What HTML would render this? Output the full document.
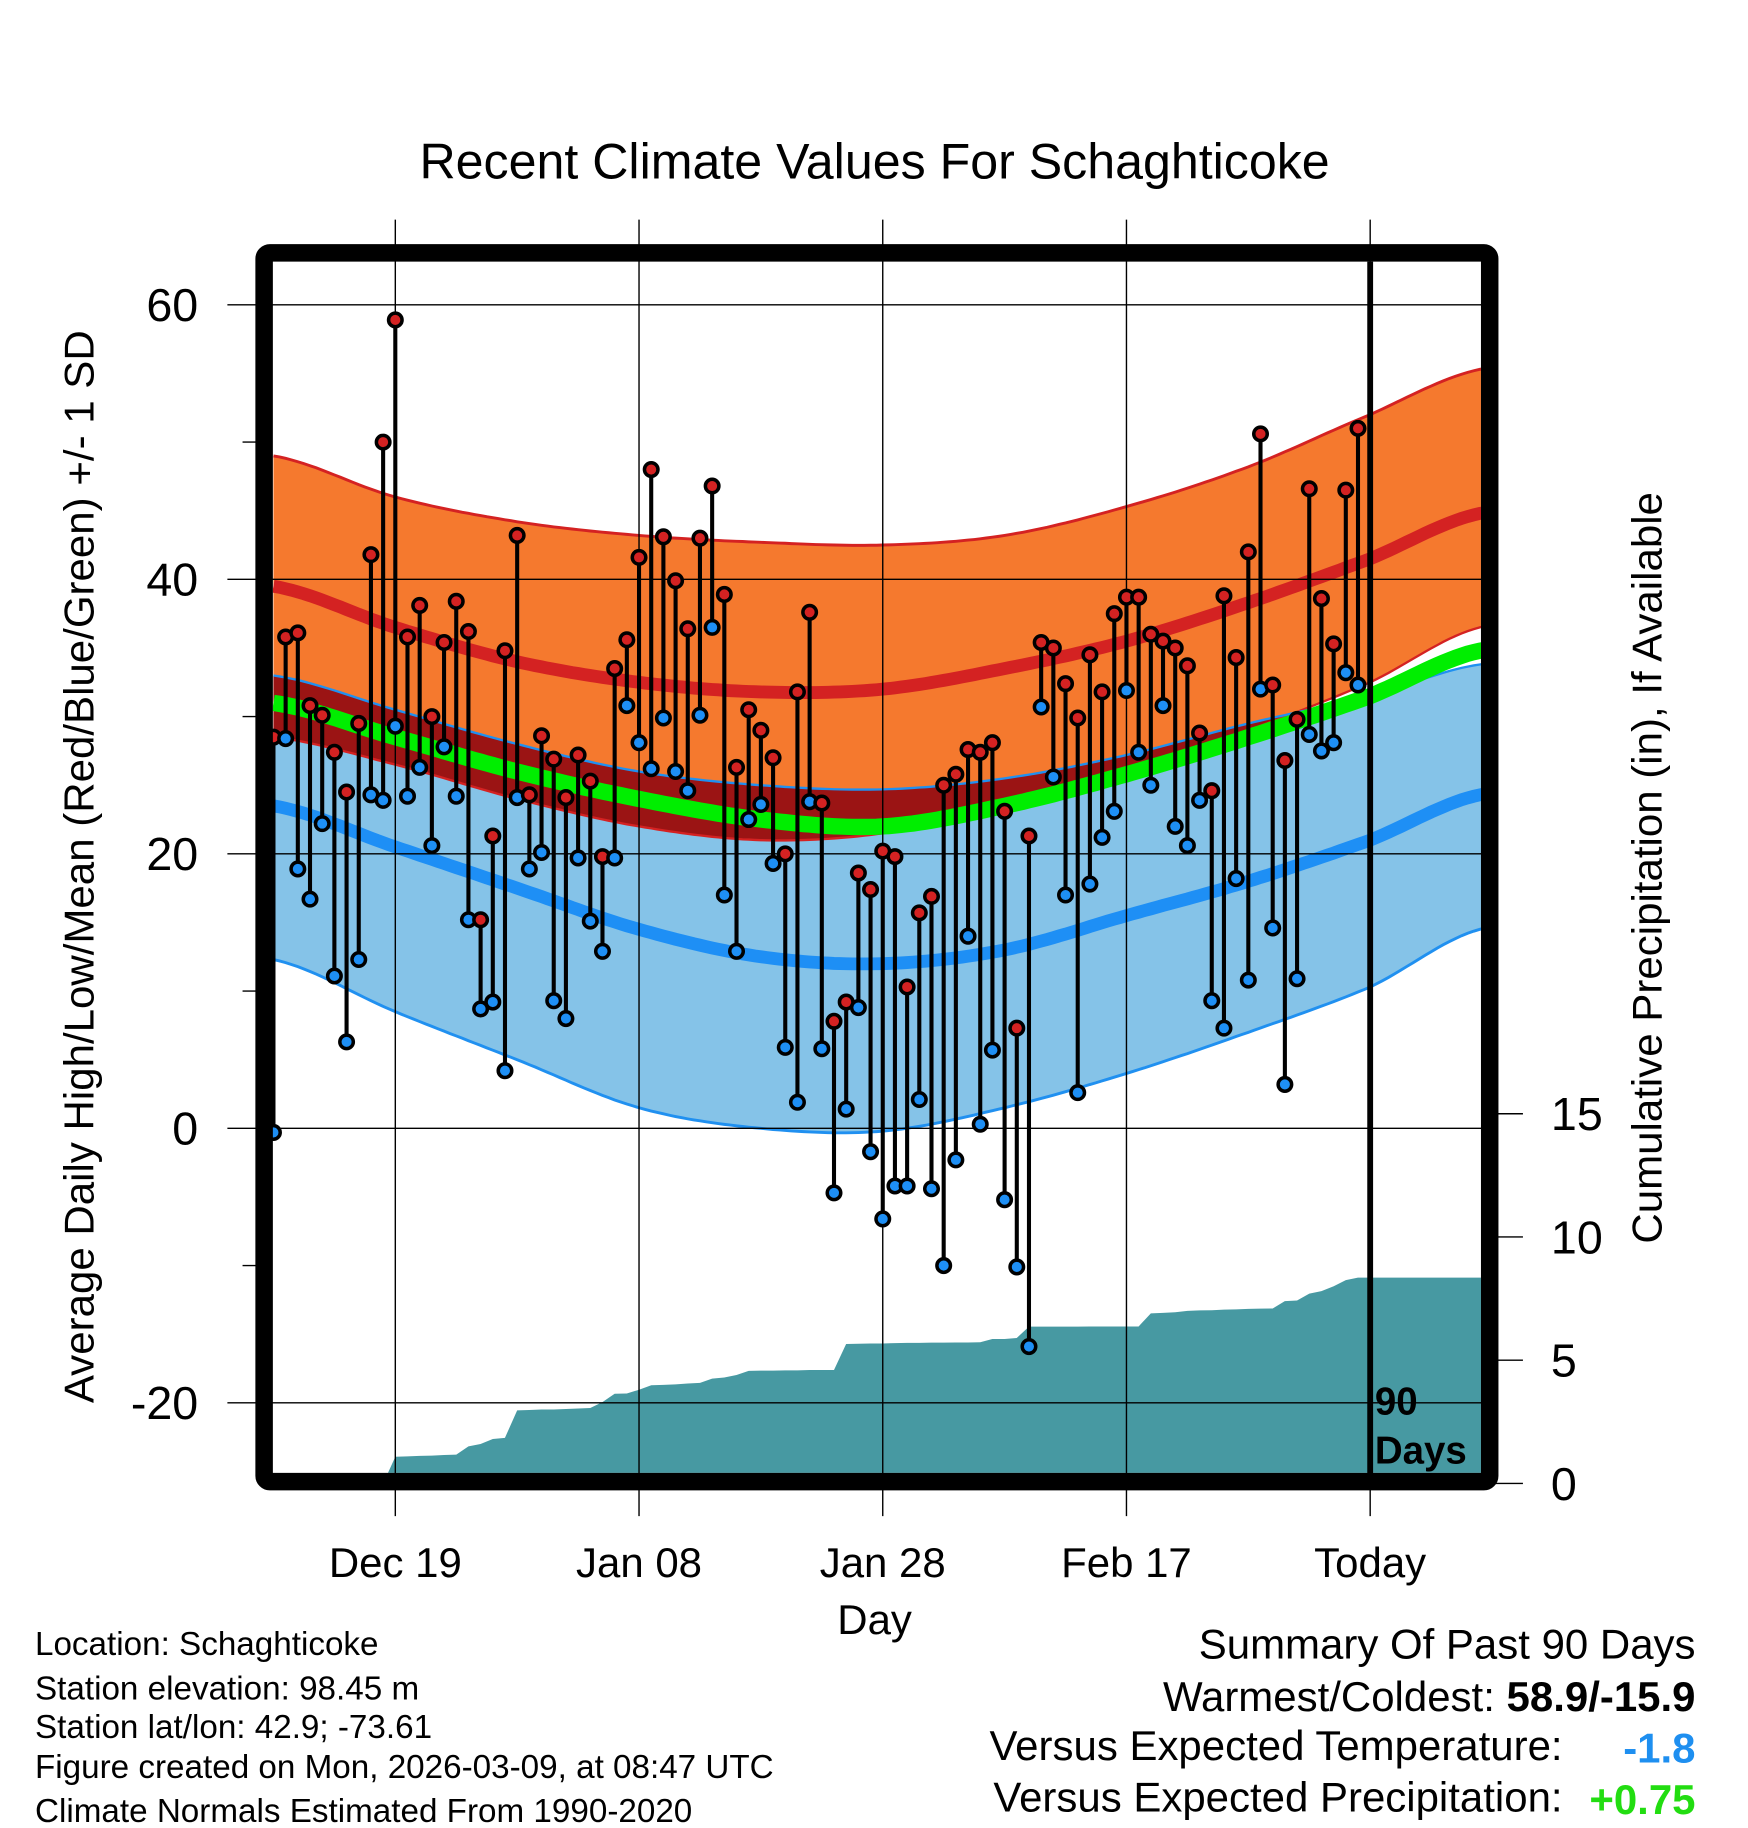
<!DOCTYPE html>
<html><head><meta charset="utf-8"><style>
html,body{margin:0;padding:0;background:#fff;}
svg{display:block;font-family:"Liberation Sans",Arial,sans-serif;}
</style></head><body>
<svg id="chart" width="1748" height="1828" viewBox="-2 -2 1499 1565" preserveAspectRatio="none" xmlns="http://www.w3.org/2000/svg">
<defs><clipPath id="plotclip"><rect x="232" y="222" width="1036" height="1037"/></clipPath></defs>
<text x="748" y="151" font-size="43" text-anchor="middle">Recent Climate Values For Schaghticoke</text>
<g id="plot" clip-path="url(#plotclip)"></g>
<g id="axes"></g>
<text transform="translate(78,740) rotate(-90)" font-size="36" text-anchor="middle">Average Daily High/Low/Mean (Red/Blue/Green) +/- 1 SD</text>
<text transform="translate(1423,741) rotate(-90)" font-size="36" text-anchor="middle">Cumulative Precipitation (in), If Available</text>
<text x="748" y="1397" font-size="36" text-anchor="middle">Day</text>
<g font-size="28.5">
<text x="28" y="1415">Location: Schaghticoke</text>
<text x="28" y="1453">Station elevation: 98.45 m</text>
<text x="28" y="1486">Station lat/lon: 42.9; -73.61</text>
<text x="28" y="1520">Figure created on Mon, 2026-03-09, at 08:47 UTC</text>
<text x="28" y="1558">Climate Normals Estimated From 1990-2020</text>
</g>
<g font-size="36">
<text x="1452" y="1418" text-anchor="end">Summary Of Past 90 Days</text>
<text x="1452" y="1463" text-anchor="end">Warmest/Coldest: <tspan font-weight="bold">58.9/-15.9</tspan></text>
<text x="1338" y="1505" text-anchor="end">Versus Expected Temperature:</text>
<text x="1452" y="1507" text-anchor="end" font-weight="bold" fill="#1e8ff0">-1.8</text>
<text x="1338" y="1549" text-anchor="end">Versus Expected Precipitation:</text>
<text x="1452" y="1551" text-anchor="end" font-weight="bold" fill="#22dd11">+0.75</text>
</g>
</svg>
<script>
// data
const highs=[28.5,35.8,36.1,30.8,30.1,27.4,24.5,29.5,41.8,50,58.9,35.8,38.1,30,35.4,38.4,36.2,15.2,21.3,34.8,43.2,24.3,28.6,26.9,24.1,27.2,25.3,19.8,33.5,35.6,41.6,48,43.1,39.9,36.4,43,46.8,38.9,26.3,30.5,29,27,20,31.8,37.6,23.7,7.8,9.2,18.6,17.4,20.2,19.8,10.3,15.7,16.9,25,25.8,27.6,27.4,28.1,23.1,7.3,21.3,35.4,35,32.4,29.9,34.5,31.8,37.5,38.7,38.7,36,35.5,35,33.7,28.8,24.6,38.8,34.3,42,50.6,32.3,26.8,29.8,46.6,38.6,35.3,46.5,51];
const lows=[-0.3,28.4,18.9,16.7,22.2,11.1,6.3,12.3,24.3,23.9,29.3,24.2,26.3,20.6,27.8,24.2,15.2,8.7,9.2,4.2,24.1,18.9,20.1,9.3,8,19.7,15.1,12.9,19.7,30.8,28.1,26.2,29.9,26,24.6,30.1,36.5,17,12.9,22.5,23.6,19.3,5.9,1.9,23.8,5.8,-4.7,1.4,8.8,-1.7,-6.6,-4.2,-4.2,2.1,-4.4,-10,-2.3,14,0.3,5.7,-5.2,-10.1,-15.9,30.7,25.6,17,2.6,17.8,21.2,23.1,31.9,27.4,25,30.8,22,20.6,23.9,9.3,7.3,18.2,10.8,32,14.6,3.2,10.9,28.7,27.5,28.1,33.2,32.3];
const precip=[0,0,0,0,0,0,0,0,0,0,1.08,1.1,1.12,1.13,1.15,1.17,1.5,1.6,1.8,1.85,2.96,2.98,3,3,3.02,3.04,3.06,3.3,3.64,3.65,3.8,3.98,4,4.02,4.05,4.08,4.25,4.3,4.4,4.57,4.58,4.58,4.59,4.59,4.6,4.6,4.6,5.66,5.67,5.68,5.68,5.69,5.7,5.7,5.71,5.71,5.72,5.72,5.73,5.86,5.86,5.9,6.36,6.36,6.36,6.36,6.36,6.37,6.37,6.37,6.37,6.37,6.9,6.92,6.95,7,7.02,7.03,7.05,7.06,7.08,7.09,7.1,7.4,7.42,7.7,7.8,8,8.25,8.35];
const knotDays=[0,10,20,30,40,50,60,70,80,90,99];
const normHighPlus=[49,46,44.2,43.2,42.7,42.5,43.2,45.3,48.2,52,55.3];
const normHigh=[39.5,36.5,34,32.5,31.8,32,33.5,35.5,38.3,41.5,44.8];
const normHighMinus=[28.5,26.5,24,22,21,21.5,23.5,26,29,32.5,36.5];
const normMean=[31,28.5,26,24,22.5,22,23.5,25.8,28.5,31.5,34.8];
const normLowPlus=[33,30.5,28,26,25,24.7,25.5,27.2,29.5,31.5,33.8];
const normLow=[23.5,20.5,17.5,14.5,12.5,12,13,15.5,18,21,24.3];
const normLowMinus=[12.3,8.5,5,1.5,0,-0.2,1.5,4,7,10.3,14.5];
const xTickLabels=["Dec 19","Jan 08","Jan 28","Feb 17","Today"];
const xTickDays=[10,30,50,70,90];
const yTicks=[60,40,20,0,-20];
const yMinor=[50,30,10,-10];
const pTicks=[0,5,10,15];

const NS="http://www.w3.org/2000/svg";
const X=d=>232.5+d*10.45;
const Y=t=>964-t*11.75;
const P=p=>1268-p*21.1;
function mk(tag,attrs,parent){const e=document.createElementNS(NS,tag);for(const k in attrs)e.setAttribute(k,attrs[k]);parent.appendChild(e);return e;}
function interp(vals,d){
  let i=0;while(i<knotDays.length-2&&d>knotDays[i+1])i++;
  const d0=knotDays[i],d1=knotDays[i+1],t=(d-d0)/(d1-d0);
  const p0=vals[Math.max(i-1,0)],p1=vals[i],p2=vals[i+1],p3=vals[Math.min(i+2,vals.length-1)];
  const t2=t*t,t3=t2*t;
  return 0.5*((2*p1)+(-p0+p2)*t+(2*p0-5*p1+4*p2-p3)*t2+(-p0+3*p1-3*p2+p3)*t3);
}
const samp=[];for(let d=0;d<=99.5;d+=0.5)samp.push(d);
const curve=v=>samp.map(d=>[X(d),Y(interp(v,d))]);
const pts=a=>a.map(p=>p[0].toFixed(1)+","+p[1].toFixed(1)).join(" ");
const plot=document.getElementById('plot');
const axes=document.getElementById('axes');

const hp=curve(normHighPlus),hm=curve(normHighMinus),lp=curve(normLowPlus),lm=curve(normLowMinus);
const bandH=mk('polygon',{points:pts(hp.concat(hm.slice().reverse())),fill:'#f5792e'},plot);


const bandL=mk('polygon',{points:pts(lp.concat(lm.slice().reverse())),fill:'#85c3e8'},plot);


const ov=samp.map(d=>{const a=interp(normLowPlus,d),b=interp(normHighMinus,d);return [X(d),Y(Math.min(a,b))];});
const ovPoly=mk('polygon',{points:pts(lp.concat(ov.slice().reverse())),fill:'#9b1414'},plot);


const lines=[[hp,'#d42222',2.5,'high-plus-sd-line'],[hm,'#d42222',2,'high-minus-sd-line'],[lp,'#2090f0',2,'low-plus-sd-line'],[lm,'#2090f0',2.5,'low-minus-sd-line'],
 [curve(normHigh),'#d42222',11,'normal-high-line'],[curve(normLow),'#1e8ff5',11,'normal-low-line'],[curve(normMean),'#00ee00',14,'normal-mean-line']];
lines.forEach(l=>{const e=mk('polyline',{points:pts(l[0]),fill:'none',stroke:l[1],'stroke-width':l[2]},plot);

});

// precip area
const pa=[[X(0),1270]];precip.forEach((p,i)=>pa.push([X(i),P(p)]));pa.push([X(100),P(precip[precip.length-1])]);pa.push([X(100),1270]);
const area=mk('polygon',{points:pts(pa),fill:'#4799a2'},plot);



// gridlines
xTickDays.forEach((d,i)=>{const g=mk('line',{x1:X(d),x2:X(d),y1:186,y2:1296,stroke:'#000','stroke-width':1.2},axes);


const t=mk('text',{x:X(d),y:1348,'font-size':36,'text-anchor':'middle'},axes);t.textContent=xTickLabels[i];

});
yTicks.forEach(v=>{const g=mk('line',{x1:193,x2:1270,y1:Y(v),y2:Y(v),stroke:'#000','stroke-width':1.2},axes);


const t=mk('text',{x:168,y:Y(v)+14,'font-size':40,'text-anchor':'end'},axes);t.textContent=v;

});
yMinor.forEach(v=>{const g=mk('line',{x1:206,x2:220,y1:Y(v),y2:Y(v),stroke:'#000','stroke-width':1.2},axes);

});
pTicks.forEach(v=>{const g=mk('line',{x1:1280,x2:1304,y1:P(v),y2:P(v),stroke:'#000','stroke-width':1.2},axes);


const t=mk('text',{x:1328,y:P(v)+14,'font-size':40},axes);t.textContent=v;

});

// stems & markers
highs.forEach((h,i)=>{const x=X(i);
 const s=mk('line',{x1:x,x2:x,y1:Y(h),y2:Y(lows[i]),stroke:'#000','stroke-width':3.5},axes);
 
 });
highs.forEach((h,i)=>{const x=X(i);
 const c1=mk('circle',{cx:x,cy:Y(h),r:5.8,fill:'#d42222',stroke:'#000','stroke-width':3},axes);
 
 
 const c2=mk('circle',{cx:x,cy:Y(lows[i]),r:5.8,fill:'#1e8ff5',stroke:'#000','stroke-width':3},axes);
 
 });

// today line
const tl=mk('line',{x1:X(90),x2:X(90),y1:222,y2:1262,stroke:'#000','stroke-width':5},axes);


const t1=mk('text',{x:1177,y:1209,'font-size':33,'font-weight':'bold'},axes);t1.textContent='90';


const t2=mk('text',{x:1177,y:1251,'font-size':33,'font-weight':'bold'},axes);t2.textContent='Days';



// frame
const fr=mk('rect',{x:224.5,y:214.5,width:1051,height:1052,rx:5,fill:'none',stroke:'#000','stroke-width':15},axes);


</script>
</body></html>
